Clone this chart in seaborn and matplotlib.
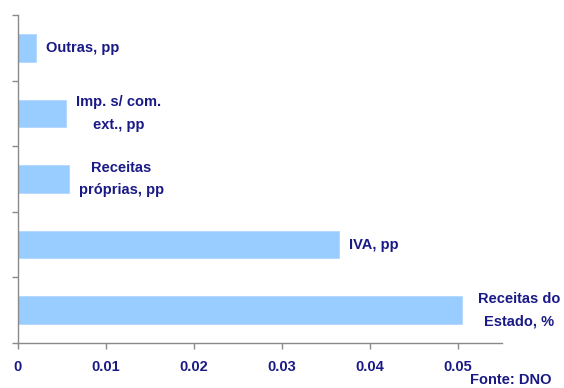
import matplotlib
matplotlib.use("Agg")
import matplotlib.pyplot as plt
import seaborn as sns
import pandas as pd

# Contributions to state revenue growth
categories = ["Outras, pp", "Imp. s/ com.\next., pp", "Receitas\npróprias, pp",
              "IVA, pp", "Receitas do\nEstado, %"]
values = [0.0021, 0.0055, 0.0058, 0.0365, 0.0504]
x_ticks = [0, 0.01, 0.02, 0.03, 0.04, 0.05]
x_tick_labels = ["0", "0.01", "0.02", "0.03", "0.04", "0.05"]
source = "Fonte: DNO"

navy = "#1a1a86"
axis_grey = "#8a8a8a"
bar_blue = "#99CCFF"

sns.set_theme(style="white")
plt.rcParams["font.family"] = ["Liberation Sans", "DejaVu Sans"]

df = pd.DataFrame({"cat": categories, "val": values})

fig = plt.figure(figsize=(5.64, 3.88), dpi=100)
ax = fig.add_axes([18 / 564, 45 / 388, (502 - 18) / 564, (343 - 15) / 388])

sns.barplot(data=df, x="val", y="cat", orient="h", color=bar_blue,
            saturation=1, width=0.42, ax=ax, edgecolor="#b3d9ff", linewidth=0.6)

ax.set_xlim(0, 0.055)
ax.set_ylim(len(categories) - 0.5, -0.5)
ax.set_yticks([i - 0.5 for i in range(len(categories) + 1)])
ax.set_yticklabels([])
ax.set_xticks(x_ticks)
ax.set_xticklabels(x_tick_labels, color=navy, fontsize=10.5, fontweight="bold")
ax.set_xlabel("")
ax.set_ylabel("")

for side in ["top", "right"]:
    ax.spines[side].set_visible(False)
for side in ["left", "bottom"]:
    ax.spines[side].set_color(axis_grey)
    ax.spines[side].set_linewidth(1.0)

ax.tick_params(axis="both", which="both", direction="out", length=4,
               width=1.0, color=axis_grey, left=True, bottom=True)
ax.tick_params(axis="x", pad=8)

# label offsets in points from the bar end
label_pad = [7, 7, 7, 7, 12]
for i, (lab, v) in enumerate(zip(categories, values)):
    ax.annotate(lab, xy=(v, i), xytext=(label_pad[i], 0), textcoords="offset points",
                ha="left", va="center", multialignment="center",
                color=navy, fontsize=10.5, fontweight="bold", linespacing=1.75)

fig.text(470 / 564, 8 / 388, source, ha="left", va="center",
         color=navy, fontsize=10.5, fontweight="bold")

fig.savefig("out.png", dpi=100)
